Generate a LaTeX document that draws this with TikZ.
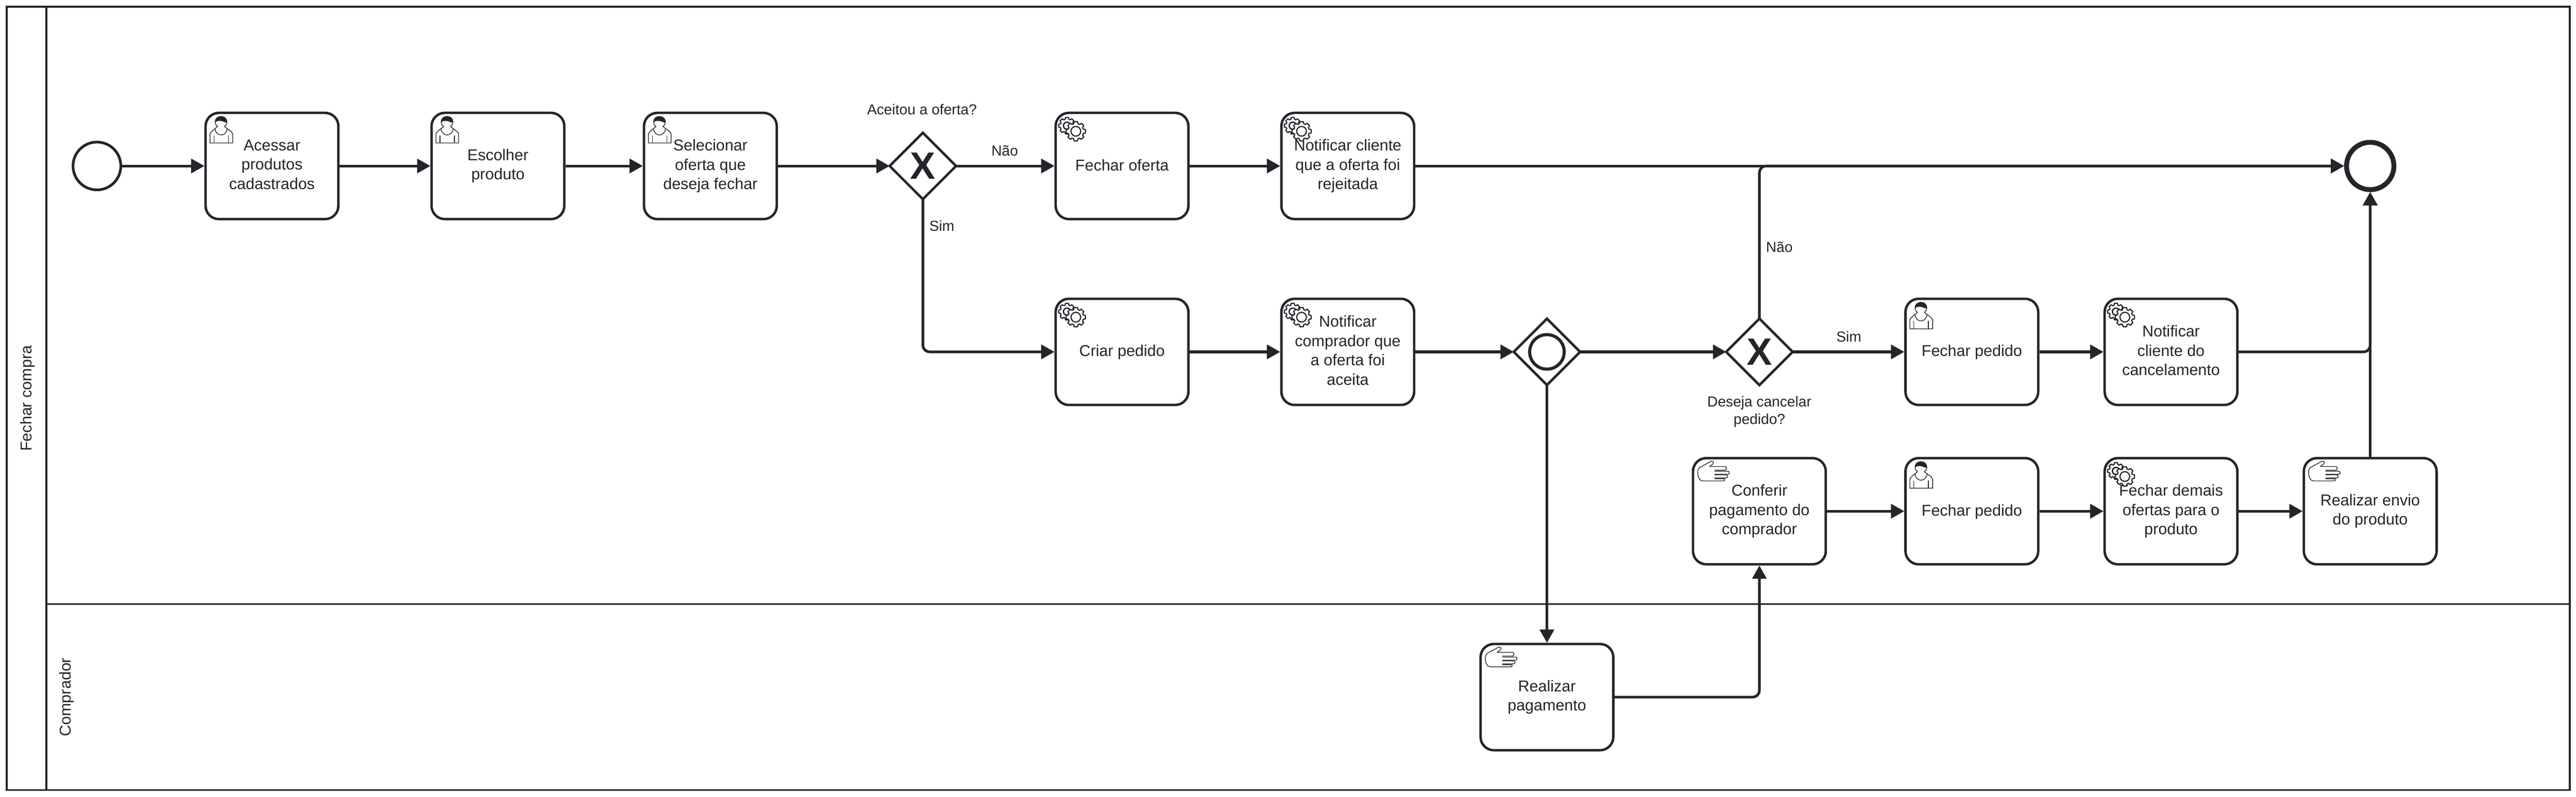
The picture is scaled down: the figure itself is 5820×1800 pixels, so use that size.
\documentclass[tikz,border=0pt]{standalone}
\usepackage{fontspec}
\setmainfont{Liberation Sans}
\usetikzlibrary{arrows.meta,shapes.geometric}
\definecolor{ink}{HTML}{23252B}
\tikzset{
  lanebox/.style={draw=ink,line width=4pt},
  taskbox/.style={draw=ink,fill=white,line width=5.5pt,rounded corners=30pt,minimum width=300pt,minimum height=240pt,inner sep=0pt,outer sep=2.7pt,align=center,text=ink,font=\fontsize{35.5}{43.6}\selectfont,
    execute at begin node={\rule{0pt}{28pt}},execute at end node={\rule[-7pt]{0pt}{0pt}}},
  gatebox/.style={draw=ink,fill=white,line width=5.5pt,diamond,aspect=1,minimum width=150pt,minimum height=150pt,inner sep=0pt,outer sep=0pt,text=ink,font=\fontsize{86}{86}\selectfont\bfseries},
  startev/.style={draw=ink,fill=white,line width=6pt,circle,minimum size=108pt,inner sep=0pt,outer sep=3pt},
  endev/.style={draw=ink,fill=white,line width=11pt,circle,minimum size=107pt,inner sep=0pt,outer sep=5.5pt},
  innerring/.style={draw=ink,line width=7pt,circle,minimum size=78pt,inner sep=0pt},
  lbl/.style={inner sep=0pt,align=center,text=ink,font=\fontsize{32.8}{40}\selectfont},
  lanelbl/.style={inner sep=0pt,rotate=90,text=ink,font=\fontsize{35.5}{43.6}\selectfont},
  flow/.style={draw=ink,line width=6pt,-{Triangle[length=30pt,width=32pt]},rounded corners=15pt},
  iconline/.style={draw=ink,line width=1.6pt,line join=round},
  gearline/.style={draw=ink,line width=2.6pt,line join=round,fill=white},
}
% user task marker
\newcommand{\usermark}[1]{%
  \begin{scope}[shift={(#1.north west)},x=0.3333pt,y=-0.3333pt]
    \draw[iconline,fill=white] (38,212) -- (38,150) .. controls (45,135) and (60,125) .. (72,115)
      -- (90,100) .. controls (78,92) and (73,82) .. (73,70)
      .. controls (73,48) and (90,32) .. (113,32)
      .. controls (136,32) and (153,48) .. (153,70)
      .. controls (153,82) and (148,92) .. (136,100)
      -- (155,115) .. controls (170,125) and (185,135) .. (192,150) -- (192,212) -- cycle;
    \fill[ink] (73,72) .. controls (73,48) and (90,32) .. (113,32)
      .. controls (136,32) and (153,48) .. (153,74)
      .. controls (135,74) and (125,62) .. (105,62)
      .. controls (90,62) and (80,66) .. (73,72) -- cycle;
    \draw[iconline] (72,115) .. controls (76,145) and (95,158) .. (113,158)
      .. controls (131,158) and (150,145) .. (155,115);
    \draw[iconline] (65,160) -- (65,212) (163,160) -- (163,212);
  \end{scope}}
% one gear outline
\newcommand{\gearshape}[3]{%
  \begin{scope}[shift={(#1)}]
    \draw[gearline] (-17:#3) \foreach \k in {0,...,7} {
        -- (\k*45-17:#3) -- (\k*45-10:#2) -- (\k*45+10:#2) -- (\k*45+17:#3) } -- cycle;
  \end{scope}}
% service task marker
\newcommand{\gearmark}[1]{%
  \begin{scope}[shift={(#1.north west)}]
    \gearshape{28.3,31.7}{19}{15}
    \draw[draw=ink,line width=3pt] (28.3,31.7) circle[radius=8];
    \gearshape{48.3,44.3}{22}{17.5}
    \draw[draw=ink,line width=2.6pt] (48.3,44.3) circle[radius=11];
  \end{scope}}
% manual task marker
\newcommand{\handmark}[1]{%
  \begin{scope}[shift={(#1.north west)},x=0.3333pt,y=-0.3333pt]
    \draw[iconline] (120,65) -- (225,65) .. controls (238,65) and (238,90) .. (225,90) -- (155,90);
    \draw[iconline] (155,97) -- (245,97) .. controls (258,97) and (258,118) .. (245,118) -- (155,118);
    \draw[iconline] (155,122) -- (232,122) .. controls (245,122) and (245,143) .. (232,143) -- (155,143);
    \draw[iconline] (155,148) -- (215,148) .. controls (225,148) and (225,163) .. (215,163) -- (75,163)
      .. controls (55,163) and (40,140) .. (40,100) .. controls (40,80) and (50,72) .. (75,60)
      -- (130,30) .. controls (145,25) and (155,40) .. (140,50) -- (120,65);
  \end{scope}}
\begin{document}
\begin{tikzpicture}[x=1pt,y=-1pt]
  \useasboundingbox (0,0) rectangle (5820,1800);
  \fill[white] (0,0) rectangle (5820,1800);
  % pool and lanes
  \draw[lanebox] (15,15) rectangle (5806,1785);
  \draw[lanebox] (105,15) -- (105,1785);
  \draw[lanebox] (105,1365) -- (5806,1365);
  \node[lanelbl] (lanemain) at (62,900) {Fechar compra};
  \node[lanelbl] (lanebuyer) at (151,1575) {Comprador};

  % events and gateways
  \node[startev] (start) at (219,375) {};
  \node[endev] (finish) at (5355,375) {};
  \node[gatebox] (gone) at (2085,375) {X};
  \node[gatebox] (gtwo) at (3975,795) {X};
  \node[gatebox] (gev) at (3495,795) {};
  \node[innerring] (gevring) at (3495,795) {};

  % tasks
  \node[taskbox] (acessar) at (614.5,375) {Acessar\\produtos\\cadastrados};
  \node[taskbox] (escolher) at (1125,375) {Escolher\\produto};
  \node[taskbox] (selecionar) at (1605,375) {Selecionar\\oferta que\\deseja fechar};
  \node[taskbox] (fecharof) at (2535,375) {Fechar oferta};
  \node[taskbox] (notrej) at (3045,375) {Notificar cliente\\que a oferta foi\\rejeitada};
  \node[taskbox] (criar) at (2535,795) {Criar pedido};
  \node[taskbox] (notaceita) at (3045,795) {Notificar\\comprador que\\a oferta foi\\aceita};
  \node[taskbox] (fecharpa) at (4455,795) {Fechar pedido};
  \node[taskbox] (notcanc) at (4905,795) {Notificar\\cliente do\\cancelamento};
  \node[taskbox] (conferir) at (3975,1155) {Conferir\\pagamento do\\comprador};
  \node[taskbox] (fecharpb) at (4455,1155) {Fechar pedido};
  \node[taskbox] (fechardem) at (4905,1155) {Fechar demais\\ofertas para o\\produto};
  \node[taskbox] (envio) at (5355,1155) {Realizar envio\\do produto};
  \node[taskbox] (pagar) at (3495,1575) {Realizar\\pagamento};

  % markers
  \usermark{acessar}\usermark{escolher}\usermark{selecionar}\usermark{fecharpa}\usermark{fecharpb}
  \gearmark{fecharof}\gearmark{notrej}\gearmark{criar}\gearmark{notaceita}\gearmark{notcanc}\gearmark{fechardem}
  \handmark{conferir}\handmark{envio}\handmark{pagar}

  % labels
  \node[lbl] (qone) at (2083,247) {Aceitou a oferta?};
  \node[lbl] (nao1) at (2270,340) {Não};
  \node[lbl] (sim1) at (2128,510) {Sim};
  \node[lbl] (nao2) at (4020,558) {Não};
  \node[lbl] (sim2) at (4177,760) {Sim};
  \node[lbl] (qtwo) at (3975,930) {Deseja cancelar\\pedido?};

  % connectors
  \draw[flow] (start) -- (acessar);
  \draw[flow] (acessar) -- (escolher);
  \draw[flow] (escolher) -- (selecionar);
  \draw[flow] (selecionar) -- (gone);
  \draw[flow] (gone) -- (fecharof);
  \draw[flow] (fecharof) -- (notrej);
  \draw[flow] (notrej) -- (finish);
  \draw[flow] (gone.south) |- (criar.west);
  \draw[flow] (criar) -- (notaceita);
  \draw[flow] (notaceita) -- (gev);
  \draw[flow] (gev) -- (gtwo);
  \draw[flow] (gev.south) -- (pagar.north);
  \draw[flow] (gtwo.north) |- (finish.west);
  \draw[flow] (gtwo) -- (fecharpa);
  \draw[flow] (fecharpa) -- (notcanc);
  \draw[flow] (notcanc.east) -| (finish.south);
  \draw[flow] (pagar.east) -| (conferir.south);
  \draw[flow] (conferir) -- (fecharpb);
  \draw[flow] (fecharpb) -- (fechardem);
  \draw[flow] (fechardem) -- (envio);
  \draw[flow] (envio.north) -- (finish.south);
\end{tikzpicture}
\end{document}
